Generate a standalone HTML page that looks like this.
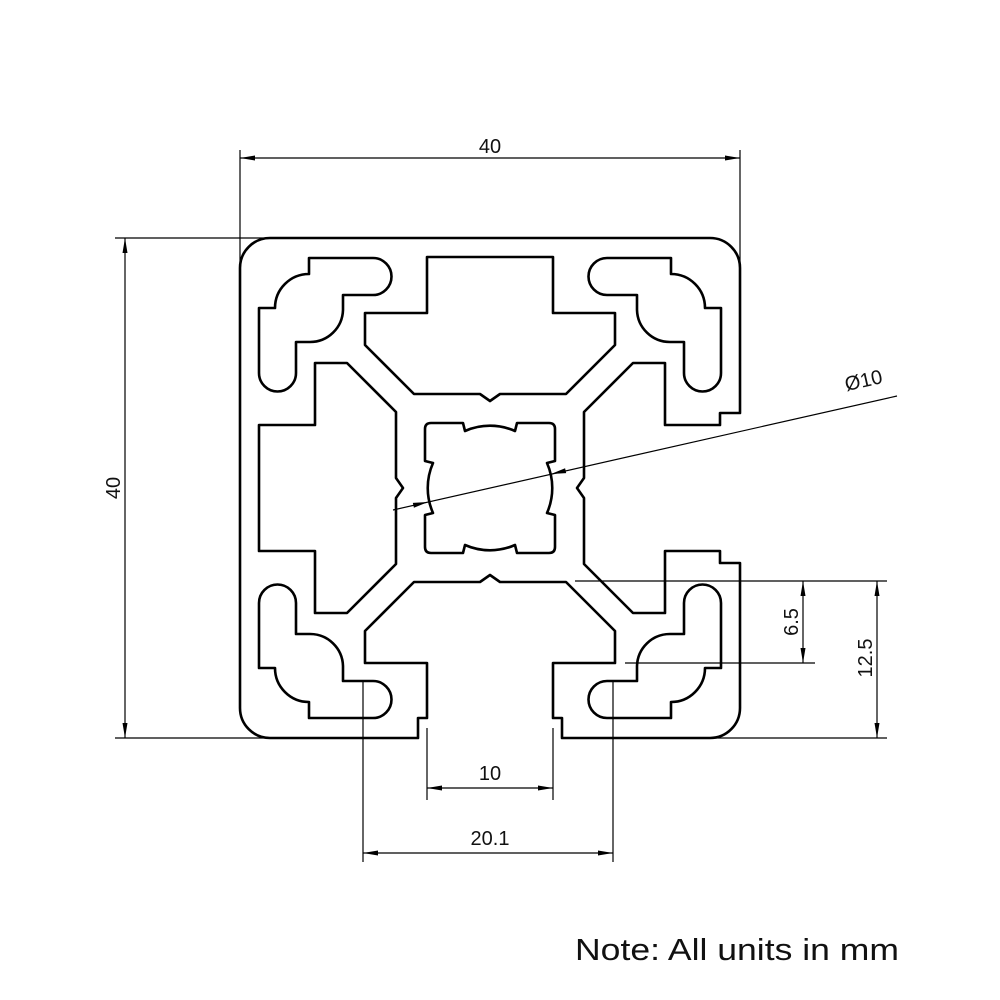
<!DOCTYPE html>
<html><head><style>
html,body{margin:0;padding:0;background:#fff;}
svg{display:block;}
text{font-family:"Liberation Sans",sans-serif;fill:#111;}
</style></head><body>
<svg width="1000" height="1000" viewBox="0 0 1000 1000" xmlns="http://www.w3.org/2000/svg">
<defs>
<path id="pocket" d="M-181,-230 L-117,-230 A18.5,18.5 0 0 1 -117,-193 L-147,-193 L-147,-178 A33,33 0 0 1 -180,-146 L-194,-146 L-194,-115 A18.5,18.5 0 0 1 -231,-115 L-231,-180 L-215,-180 A34,34 0 0 1 -181,-214 Z"/>
</defs>
<g transform="translate(490,488)" fill="none" stroke="#000" stroke-width="2.6" stroke-linejoin="round">
<path d="M-220,-250 L220,-250 A30,30 0 0 1 250,-220 L250,-75 L230,-75 L230,-63 L175,-63 L175,-125 L143,-125 L94,-76 L94,-10 L87,0 L94,10 L94,76 L143,125 L175,125 L175,63 L230,63 L230,75 L250,75 L250,220 A30,30 0 0 1 220,250 L72,250 L72,230 L63,230 L63,175 L125,175 L125,143 L76,94 L10,94 L0,87 L-10,94 L-76,94 L-125,143 L-125,175 L-63,175 L-63,230 L-72,230 L-72,250 L-220,250 A30,30 0 0 1 -250,220 L-250,-220 A30,30 0 0 1 -220,-250 Z"/>
<path d="M-175,-125 L-143,-125 L-94,-76 L-94,-10 L-87,0 L-94,10 L-94,76 L-143,125 L-175,125 L-175,63 L-231,63 L-231,-63 L-175,-63 Z"/>
<path d="M-125,-175 L-125,-143 L-76,-94 L-10,-94 L0,-87 L10,-94 L76,-94 L125,-143 L125,-175 L63,-175 L63,-231 L-63,-231 L-63,-175 Z"/>
<path d="M-59,-65 L-27,-65 L-25,-57 A62,62 0 0 1 25,-57 L27,-65 L59,-65 Q65,-65 65,-59 L65,-27 L57,-25 A62,62 0 0 1 57,25 L65,27 L65,59 Q65,65 59,65 L27,65 L25,57 A62,62 0 0 1 -25,57 L-27,65 L-59,65 Q-65,65 -65,59 L-65,27 L-57,25 A62,62 0 0 1 -57,-25 L-65,-27 L-65,-59 Q-65,-65 -59,-65 Z"/>
<use href="#pocket"/>
<use href="#pocket" transform="scale(-1,1)"/>
<use href="#pocket" transform="scale(1,-1)"/>
<use href="#pocket" transform="scale(-1,-1)"/>
</g>
<g stroke="#000" stroke-width="1.2" fill="none">
<line x1="240" y1="150" x2="240" y2="265"/><line x1="740" y1="150" x2="740" y2="265"/>
<line x1="240" y1="158" x2="740" y2="158"/>
<line x1="115" y1="238" x2="268" y2="238"/><line x1="115" y1="738" x2="268" y2="738"/>
<line x1="125" y1="238" x2="125" y2="738"/>
<line x1="393" y1="510" x2="897" y2="396"/>
<line x1="575" y1="581" x2="887" y2="581"/>
<line x1="625" y1="663" x2="815" y2="663"/>
<line x1="712" y1="738" x2="887" y2="738"/>
<line x1="803" y1="581" x2="803" y2="663"/>
<line x1="877" y1="581" x2="877" y2="738"/>
<line x1="427" y1="728" x2="427" y2="800"/><line x1="553" y1="728" x2="553" y2="800"/>
<line x1="427" y1="788" x2="553" y2="788"/>
<line x1="363" y1="680" x2="363" y2="862"/><line x1="613" y1="680" x2="613" y2="862"/>
<line x1="363" y1="853" x2="613" y2="853"/>
</g>
<g fill="#000">
<polygon points="240,158 255,155.5 255,160.5"/><polygon points="740,158 725,155.5 725,160.5"/>
<polygon points="125,238 122.5,253 127.5,253"/><polygon points="125,738 122.5,723 127.5,723"/>
<polygon points="803,581 800.5,596 805.5,596"/><polygon points="803,663 800.5,648 805.5,648"/>
<polygon points="877,581 874.5,596 879.5,596"/><polygon points="877,738 874.5,723 879.5,723"/>
<polygon points="427,788 442,785.5 442,790.5"/><polygon points="553,788 538,785.5 538,790.5"/>
<polygon points="363,853 378,850.5 378,855.5"/><polygon points="613,853 598,850.5 598,855.5"/>
<g transform="translate(428,502) rotate(-12.7)"><polygon points="0,0 -15,-2.5 -15,2.5"/></g>
<g transform="translate(551,474) rotate(-12.7)"><polygon points="0,0 15,-2.5 15,2.5"/></g>
</g>
<g font-size="20">
<text x="490" y="153" text-anchor="middle">40</text>
<text transform="translate(120,488) rotate(-90)" text-anchor="middle">40</text>
<text transform="translate(865,387) rotate(-12.7)" text-anchor="middle">Ø10</text>
<text transform="translate(798,622) rotate(-90)" text-anchor="middle">6.5</text>
<text transform="translate(872,658) rotate(-90)" text-anchor="middle">12.5</text>
<text x="490" y="780" text-anchor="middle">10</text>
<text x="490" y="845" text-anchor="middle">20.1</text>
</g>
<text x="575" y="960" font-size="31" textLength="324" lengthAdjust="spacingAndGlyphs">Note: All units in mm</text>
</svg>
</body></html>
